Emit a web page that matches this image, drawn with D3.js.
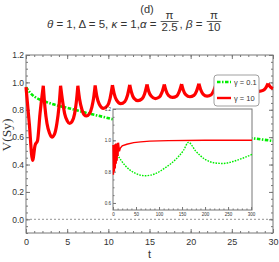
<!DOCTYPE html>
<html>
<head>
<meta charset="utf-8">
<script src="https://cdn.jsdelivr.net/npm/d3@7"></script>
<style>
  body { margin: 0; background: #fff; }
  svg { display: block; font-family: "Liberation Sans", Arial, sans-serif; }
</style>
</head>
<body>
<div id="chart"></div>
<script>
// values
const xTicks = [0, 5, 10, 15, 20, 25, 30];
const yTicks = [0, 0.2, 0.4, 0.6, 0.8, 1.0, 1.2];
const insetXTicks = [0, 50, 100, 150, 200, 250, 300];
const insetYTicks = [0.6, 0.8, 1.0, 1.2];
const legendLabels = ["γ = 0.1", "γ = 10"];

// gamma = 10, main panel, [t, V(Sy)]
const gamma10 = [
  [0, 0.965], [0.4, 0.7], [0.8, 0.43], [1.1, 0.54], [1.4, 0.575], [1.7, 0.77], [2.1, 0.975],
  [2.3, 0.82], [2.55, 0.7], [2.85, 0.63], [3.15, 0.6], [3.45, 0.62], [3.75, 0.7], [4.0, 0.82], [4.2, 0.975],
  [4.45, 0.86], [4.7, 0.77], [5.0, 0.72], [5.3, 0.7], [5.6, 0.715], [5.9, 0.77], [6.1, 0.85], [6.3, 0.975],
  [6.5, 0.88], [6.8, 0.8], [7.05, 0.765], [7.35, 0.755], [7.7, 0.77], [8.0, 0.82], [8.2, 0.88], [8.4, 0.978],
  [8.6, 0.9], [8.9, 0.84], [9.4, 0.81], [9.9, 0.83], [10.2, 0.88], [10.5, 0.98],
  [10.7, 0.92], [11.0, 0.87], [11.5, 0.845], [12.0, 0.86], [12.3, 0.9], [12.6, 0.982],
  [12.8, 0.93], [13.1, 0.885], [13.6, 0.867], [14.1, 0.88], [14.4, 0.915], [14.7, 0.985],
  [14.9, 0.935], [15.2, 0.9], [15.7, 0.882], [16.2, 0.893], [16.5, 0.925], [16.8, 0.986],
  [17.0, 0.94], [17.3, 0.905], [17.8, 0.89], [18.3, 0.9], [18.6, 0.93], [18.9, 0.988],
  [19.1, 0.945], [19.4, 0.91], [19.9, 0.895], [20.4, 0.905], [20.7, 0.935], [21.0, 0.99],
  [21.2, 0.95], [21.5, 0.915], [22.0, 0.9], [22.5, 0.91], [22.8, 0.94], [23.1, 0.99],
  [23.3, 0.952], [23.6, 0.925], [24.1, 0.912], [24.6, 0.92], [24.9, 0.947], [25.2, 0.99],
  [25.4, 0.957], [25.7, 0.935], [26.2, 0.922], [26.7, 0.93], [27.0, 0.952], [27.3, 0.991],
  [27.5, 0.962], [27.8, 0.945], [28.3, 0.935], [28.8, 0.942], [29.1, 0.958], [29.4, 0.992],
  [29.7, 0.965], [30, 0.955]
];

// gamma = 0.1, main panel
const gamma01 = [
  [0, 0.965], [0.5, 0.925], [1.1, 0.893], [2.1, 0.865], [3.3, 0.84], [5.3, 0.81], [7.8, 0.77],
  [9.6, 0.745], [10.6, 0.73], [13.8, 0.692], [16.5, 0.665], [19.9, 0.64], [23.5, 0.615],
  [27.2, 0.594], [30, 0.572]
];

// inset, long time range
const insetGamma10 = [
  [0, 0.97], [1, 0.78], [2, 0.97], [3, 0.8], [4, 0.975], [5, 0.82], [6, 0.98], [7, 0.85],
  [8, 0.98], [9, 0.87], [10, 0.985], [11, 0.9], [12, 0.985], [14, 0.93], [16, 0.95], [20, 0.965],
  [30, 0.975], [45, 0.985], [60, 0.99], [80, 0.995], [120, 0.998], [200, 1.0], [302, 1.0]
];
const insetGamma01 = [
  [9, 0.91], [26, 0.84], [48, 0.79], [70, 0.774], [92, 0.787], [114, 0.826], [136, 0.877],
  [153, 0.935], [164, 0.987], [180, 0.93], [201, 0.877], [223, 0.855], [239, 0.852],
  [261, 0.865], [283, 0.887], [302, 0.91]
];

const width = 279, height = 262;
const frame = { left: 26, right: 273, top: 55, bottom: 233 };
const inset = { left: 113, right: 252, top: 109, bottom: 210 };
const red = "#ff0000", green = "#00ee00", frameColor = "#777", labelColor = "#333";

const svg = d3.select("#chart").append("svg")
  .attr("width", width).attr("height", height)
  .attr("viewBox", [0, 0, width, height]);

// scales
const x = d3.scaleLinear().domain([0, 30]).range([frame.left, frame.right]);
const y = d3.scaleLinear().domain([-0.1, 1.2]).range([frame.bottom, frame.top]);
const ix = d3.scaleLinear().domain([0, 302]).range([inset.left, inset.right]);
const iy = d3.scaleLinear().domain([0.555, 1.2]).range([inset.bottom, inset.top]);

// draw a curve, splitting it at the cusps (local maxima) so they stay sharp
function cuspPath(data, sx, sy) {
  const line = d3.line().x(d => sx(d[0])).y(d => sy(d[1])).curve(d3.curveMonotoneX);
  const pieces = [];
  let start = 0;
  for (let i = 1; i < data.length - 1; i++) {
    if (data[i][1] > data[i - 1][1] && data[i][1] > data[i + 1][1]) {
      pieces.push(data.slice(start, i + 1));
      start = i;
    }
  }
  pieces.push(data.slice(start));
  return pieces.map(p => line(p)).join("");
}

// inward ticks on one frame side
function frameAxis(axisFn, scale, major, minor, pos, size, fmt, showLabels) {
  const g = svg.append("g").attr("transform", pos);
  g.call(axisFn(scale).tickValues(minor).tickSize(-size * 0.5).tickFormat(""))
    .call(s => s.select(".domain").remove());
  const gm = svg.append("g").attr("transform", pos);
  gm.call(axisFn(scale).tickValues(major).tickSize(-size).tickPadding(size + 3)
      .tickFormat(showLabels ? fmt : ""))
    .call(s => s.select(".domain").remove());
  svg.selectAll(".tick line").attr("stroke", frameColor);
  return gm;
}

const xMinor = d3.range(0, 30.01, 1);
const yMinor = d3.range(-0.1, 1.201, 0.05).map(v => +v.toFixed(2));

// frame
svg.append("rect")
  .attr("x", frame.left).attr("y", frame.top)
  .attr("width", frame.right - frame.left).attr("height", frame.bottom - frame.top)
  .attr("fill", "none").attr("stroke", frameColor);

const xb = frameAxis(d3.axisBottom, x, xTicks, xMinor, `translate(0,${frame.bottom})`, 4, d3.format("d"), true);
frameAxis(d3.axisTop, x, xTicks, xMinor, `translate(0,${frame.top})`, 4, null, false);
const yl = frameAxis(d3.axisLeft, y, yTicks, yMinor, `translate(${frame.left},0)`, 4, d3.format(".1f"), true);
frameAxis(d3.axisRight, y, yTicks, yMinor, `translate(${frame.right},0)`, 4, null, false);

xb.selectAll("text").attr("font-size", 9).attr("fill", labelColor).attr("font-family", "Liberation Sans");
yl.selectAll("text").attr("font-size", 8.5).attr("fill", labelColor).attr("font-family", "Liberation Sans");
yl.selectAll(".tick text").attr("x", -2);
xb.selectAll(".tick text").attr("y", 6);

// zero reference line
svg.append("line")
  .attr("x1", frame.left).attr("x2", frame.right)
  .attr("y1", y(0)).attr("y2", y(0))
  .attr("stroke", "#777").attr("stroke-width", 0.8).attr("stroke-dasharray", "2,2");

// curves in the main panel
svg.append("path")
  .attr("d", d3.line().x(d => x(d[0])).y(d => y(d[1])).curve(d3.curveMonotoneX)(gamma01))
  .attr("fill", "none").attr("stroke", green).attr("stroke-width", 2.6)
  .attr("stroke-dasharray", "3.5,1.5,1.5,1.5");

svg.append("path")
  .attr("d", cuspPath(gamma10, x, y))
  .attr("fill", "none").attr("stroke", red).attr("stroke-width", 3.2)
  .attr("stroke-linejoin", "round");

// axis titles
svg.append("text")
  .attr("x", (frame.left + frame.right) / 2).attr("y", 258)
  .attr("text-anchor", "middle").attr("font-size", 11).attr("fill", labelColor)
  .text("t");

svg.append("text")
  .attr("transform", "translate(11,135) rotate(-90)")
  .attr("text-anchor", "middle").attr("font-size", 13.5)
  .attr("font-family", "Liberation Serif").attr("fill", labelColor)
  .text("V(Sy)");

// inset
svg.append("rect")
  .attr("x", inset.left).attr("y", inset.top)
  .attr("width", inset.right - inset.left).attr("height", inset.bottom - inset.top)
  .attr("fill", "#fff").attr("stroke", frameColor);

const insetG = svg.append("g");
const ixMinor = d3.range(0, 301, 10);
const iyMinor = d3.range(0.6, 1.201, 0.05).map(v => +v.toFixed(2));

insetG.append("g").attr("transform", `translate(0,${inset.bottom})`)
  .call(d3.axisBottom(ix).tickValues(ixMinor).tickSize(-1.5).tickFormat(""))
  .call(s => s.select(".domain").remove());
const ixa = insetG.append("g").attr("transform", `translate(0,${inset.bottom})`)
  .call(d3.axisBottom(ix).tickValues(insetXTicks).tickSize(-3).tickPadding(1.5).tickFormat(d3.format("d")))
  .call(s => s.select(".domain").remove());
insetG.append("g").attr("transform", `translate(${inset.left},0)`)
  .call(d3.axisLeft(iy).tickValues(iyMinor).tickSize(-1.5).tickFormat(""))
  .call(s => s.select(".domain").remove());
const iya = insetG.append("g").attr("transform", `translate(${inset.left},0)`)
  .call(d3.axisLeft(iy).tickValues(insetYTicks).tickSize(-3).tickPadding(2).tickFormat(d3.format(".1f")))
  .call(s => s.select(".domain").remove());
insetG.selectAll(".tick line").attr("stroke", frameColor);
ixa.selectAll("text").attr("font-size", 4.5).attr("fill", labelColor).attr("y", 3);
iya.selectAll("text").attr("font-size", 4.5).attr("fill", labelColor).attr("x", -2);

svg.append("path")
  .attr("d", d3.line().x(d => ix(d[0])).y(d => iy(d[1])).curve(d3.curveMonotoneX)(insetGamma01))
  .attr("fill", "none").attr("stroke", green).attr("stroke-width", 1.4)
  .attr("stroke-dasharray", "1.6,1.2");

svg.append("path")
  .attr("d", d3.line().x(d => ix(d[0])).y(d => iy(d[1])).curve(d3.curveLinear)(insetGamma10))
  .attr("fill", "none").attr("stroke", red).attr("stroke-width", 1.4);

// legend
const legend = svg.append("g").attr("transform", "translate(214,75)");
legend.append("rect")
  .attr("width", 45).attr("height", 31).attr("rx", 3)
  .attr("fill", "#fff").attr("stroke", "#888").attr("stroke-width", 0.8);
const legendStyles = [
  { stroke: green, dash: "3.5,1.5,1.5,1.5", w: 2.4 },
  { stroke: red, dash: null, w: 2.4 }
];
legendLabels.forEach((label, i) => {
  const ly = 7 + i * 16;
  legend.append("line")
    .attr("x1", 3).attr("x2", 17).attr("y1", ly).attr("y2", ly)
    .attr("stroke", legendStyles[i].stroke).attr("stroke-width", legendStyles[i].w)
    .attr("stroke-dasharray", legendStyles[i].dash);
  legend.append("text")
    .attr("x", 20).attr("y", ly + 2.7)
    .attr("font-size", 7.5).attr("fill", labelColor)
    .text(label);
});

// titles
svg.append("text")
  .attr("x", 147).attr("y", 13).attr("text-anchor", "middle")
  .attr("font-size", 11).attr("fill", labelColor)
  .text("(d)");

const fs = 11.5;
const baseY = 28;
let cx = 47;
function plainText(parts) {
  const t = svg.append("text").attr("x", cx).attr("y", baseY).attr("font-size", fs).attr("fill", labelColor)
    .attr("xml:space", "preserve");
  parts.forEach(p => t.append("tspan").attr("font-style", p.i ? "italic" : null).text(p.s));
  cx += t.node().getComputedTextLength();
}
function fraction(num, den) {
  const n = svg.append("text").attr("y", baseY - 9.5).attr("text-anchor", "middle")
    .attr("font-size", fs).attr("fill", labelColor).text(num);
  const d = svg.append("text").attr("y", baseY + 3).attr("text-anchor", "middle")
    .attr("font-size", fs).attr("fill", labelColor).text(den);
  const w = Math.max(n.node().getComputedTextLength(), d.node().getComputedTextLength()) + 2;
  n.attr("x", cx + 1 + w / 2);
  d.attr("x", cx + 1 + w / 2);
  svg.append("line").attr("x1", cx + 1).attr("x2", cx + 1 + w)
    .attr("y1", baseY - 6.5).attr("y2", baseY - 6.5)
    .attr("stroke", labelColor).attr("stroke-width", 0.8);
  cx += w + 2;
}
plainText([{ s: "θ", i: true }, { s: " = 1, Δ = 5, " }, { s: "κ", i: true }, { s: " = 1," }, { s: "α", i: true }, { s: " = " }]);
fraction("π", "2.5");
plainText([{ s: ", " }, { s: "β", i: true }, { s: " = " }]);
fraction("π", "10");
</script>
</body>
</html>
